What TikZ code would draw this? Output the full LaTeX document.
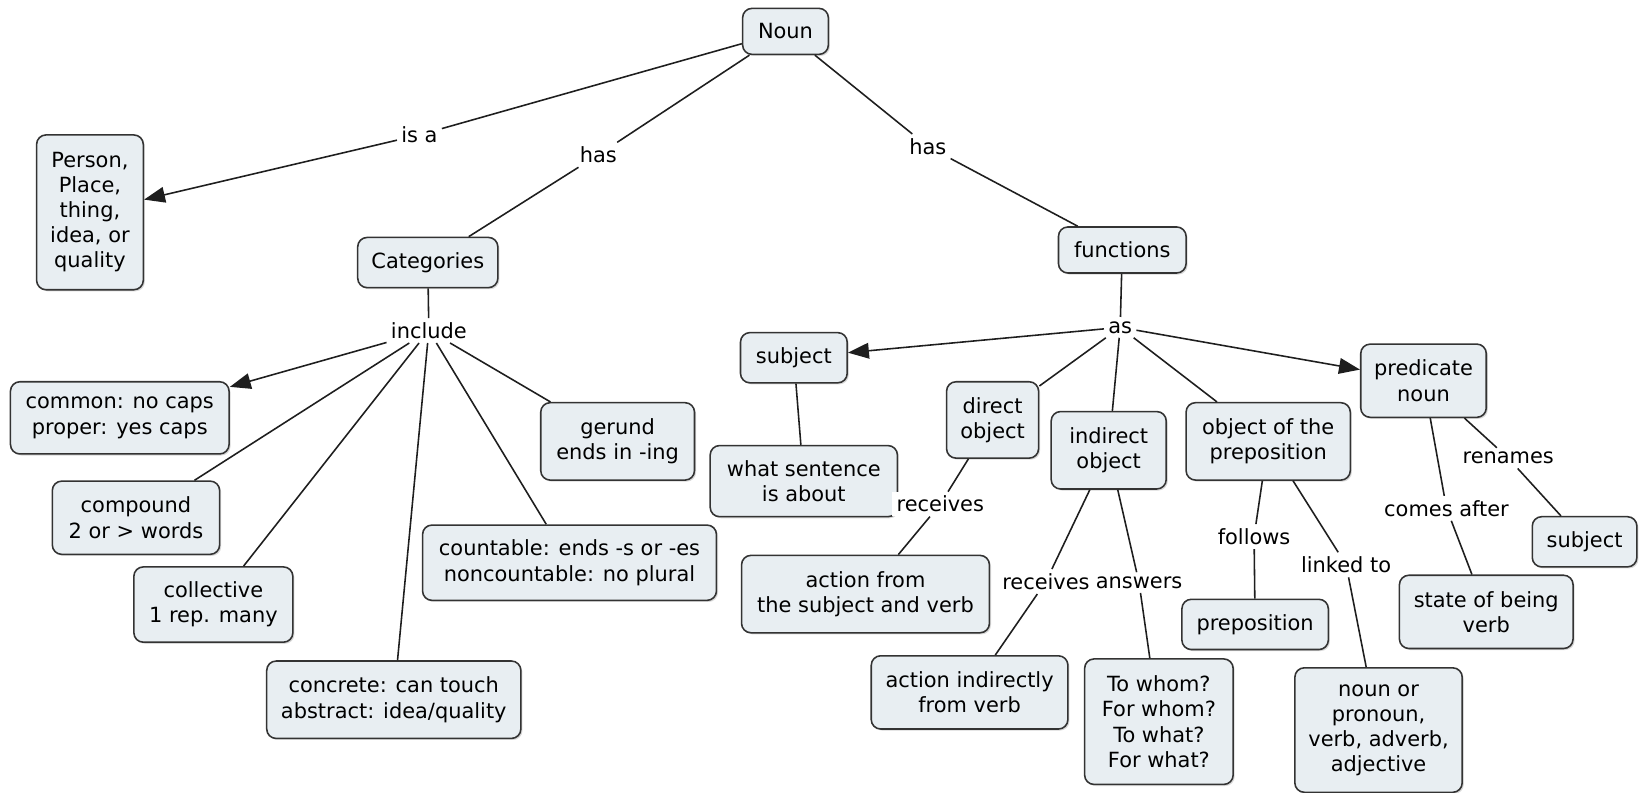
\documentclass[tikz,border=0pt]{standalone}
\usepackage{fontspec}
\setmainfont{DejaVu Sans}
\usetikzlibrary{arrows.meta,shadows}
\definecolor{boxfill}{HTML}{E8EEF2}
\definecolor{boxline}{HTML}{333333}
\definecolor{lnk}{HTML}{1E1E1E}
\begin{document}
\begin{tikzpicture}[x=1pt,y=-1pt,
  concept/.style={draw=boxline,line width=1.5pt,fill=boxfill,rounded corners=9pt,align=center,
    font=\fontsize{20}{24}\selectfont,inner sep=0pt,
    drop shadow={shadow xshift=1.5pt,shadow yshift=-1.5pt,fill=black!30,opacity=0.5}},
  lbl/.style={fill=white,inner sep=4pt,font=\fontsize{20}{24}\selectfont},
  link/.style={draw=lnk,line width=1.5pt},
  arr/.style={link,-{Triangle[length=20pt,width=15pt]}}]
\fill[white] (0,0) rectangle (1568,758);
\useasboundingbox (0,0) rectangle (1568,758);

% concepts
\node[concept,minimum width=82pt,minimum height=44pt] (noun) at (751,30) {Noun};
\node[concept,minimum width=102pt,minimum height=148pt] (person) at (86,203) {Person,\\Place,\\thing,\\idea, or\\quality};
\node[concept,minimum width=134pt,minimum height=48pt] (categories) at (409,251) {Categories};
\node[concept,minimum width=122pt,minimum height=44pt] (functions) at (1073,239) {functions};
\node[concept,minimum width=209pt,minimum height=69pt] (common) at (114.5,399.5) {common: no caps\\proper: yes caps};
\node[concept,minimum width=160pt,minimum height=70pt] (compound) at (130,495) {compound\\2 or > words};
\node[concept,minimum width=152pt,minimum height=72pt] (collective) at (204,578) {collective\\1 rep. many};
\node[concept,minimum width=243pt,minimum height=74pt] (concrete) at (376.5,669) {concrete: can touch\\abstract: idea/quality};
\node[concept,minimum width=281pt,minimum height=72pt] (countable) at (544.5,538) {countable: ends -s or -es\\noncountable: no plural};
\node[concept,minimum width=147pt,minimum height=74pt] (gerund) at (590.5,422) {gerund\\ends in -ing};
\node[concept,minimum width=102pt,minimum height=48pt] (subjL) at (759,342) {subject};
\node[concept,minimum width=179pt,minimum height=68pt] (what) at (768.5,460) {what sentence\\is about};
\node[concept,minimum width=88pt,minimum height=73pt] (direct) at (949,401.5) {direct\\object};
\node[concept,minimum width=237pt,minimum height=74pt] (actfrom) at (827.5,568) {action from\\the subject and verb};
\node[concept,minimum width=110pt,minimum height=74pt] (indirect) at (1060,430.5) {indirect\\object};
\node[concept,minimum width=188pt,minimum height=70pt] (actind) at (927,662) {action indirectly\\from verb};
\node[concept,minimum width=142pt,minimum height=120pt] (towhom) at (1108,690) {To whom?\\For whom?\\To what?\\For what?};
\node[concept,minimum width=157pt,minimum height=74pt] (objprep) at (1212.5,422) {object of the\\preposition};
\node[concept,minimum width=140pt,minimum height=48pt] (prep) at (1200,597) {preposition};
\node[concept,minimum width=160pt,minimum height=119pt] (nounor) at (1318,698) {noun or\\pronoun,\\verb, adverb,\\adjective};
\node[concept,minimum width=120pt,minimum height=70pt] (pred) at (1361,364) {predicate\\noun};
\node[concept,minimum width=100pt,minimum height=48pt] (subjR) at (1515,518) {subject};
\node[concept,minimum width=166pt,minimum height=70pt] (state) at (1421,585) {state of being\\verb};

% linking phrases
\node[lbl] (isa) at (401,129) {is a};
\node[lbl] (hasL) at (572,148) {has};
\node[lbl] (hasR) at (887,140) {has};
\node[lbl] (include) at (410,316) {include};
\node[lbl] (as) at (1071,313) {as};
\node[lbl] (recv1) at (899,482) {receives};
\node[lbl] (recv2) at (1000,556) {receives};
\node[lbl] (answers) at (1089,557) {answers};
\node[lbl] (follows) at (1199,513) {follows};
\node[lbl] (linked) at (1287,540) {linked to};
\node[lbl] (comes) at (1383,486) {comes after};
\node[lbl] (renames) at (1442,438) {renames};

% connectors
\draw[link] (noun) -- (isa);
\draw[arr] (isa) -- (person);
\draw[link] (noun) -- (hasL);
\draw[link] (hasL) -- (categories);
\draw[link] (noun) -- (hasR);
\draw[link] (hasR) -- (functions);

\draw[link] (categories) -- (include);
\draw[arr] (include) -- (common);
\draw[link] (include) -- (compound);
\draw[link] (include) -- (collective);
\draw[link] (include) -- (concrete);
\draw[link] (include) -- (countable);
\draw[link] (include) -- (gerund);

\draw[link] (functions) -- (as);
\draw[arr] (as) -- (subjL);
\draw[link] (as) -- (direct);
\draw[link] (as) -- (indirect);
\draw[link] (as) -- (objprep);
\draw[arr] (as) -- (pred);

\draw[link] (subjL) -- (what);
\draw[link] (direct) -- (recv1);
\draw[link] (recv1) -- (actfrom);
\draw[link] (indirect) -- (recv2);
\draw[link] (recv2) -- (actind);
\draw[link] (indirect) -- (answers);
\draw[link] (answers) -- (towhom);
\draw[link] (objprep) -- (follows);
\draw[link] (follows) -- (prep);
\draw[link] (objprep) -- (linked);
\draw[link] (linked) -- (nounor);
\draw[link] (pred) -- (comes);
\draw[link] (comes) -- (state);
\draw[link] (pred) -- (renames);
\draw[link] (renames) -- (subjR);
\end{tikzpicture}
\end{document}
